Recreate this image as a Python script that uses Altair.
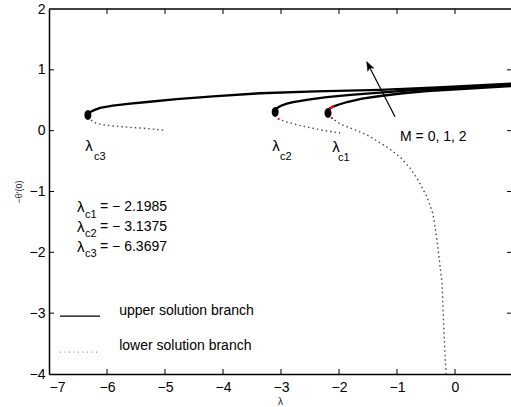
import altair as alt
import pandas as pd

# ---------------- data ----------------
x_ticks = [-7, -6, -5, -4, -3, -2, -1, 0]
y_ticks = [-4, -3, -2, -1, 0, 1, 2]

# upper solution branches (solid)
up3_lam = [-6.33, -6.28, -6.2, -6.12, -5.9, -5.6, -5.31, -4.8, -4.17, -3.36, -2.4, -1.29, -0.3, 0.97]
up3_f = [0.26, 0.31, 0.345, 0.373, 0.41, 0.445, 0.471, 0.52, 0.565, 0.615, 0.645, 0.672, 0.71, 0.775]
up2_lam = [-3.10, -3.07, -3.0, -2.9, -2.79, -2.5, -2.21, -1.8, -1.29, -0.48, 0.97]
up2_f = [0.307, 0.373, 0.41, 0.445, 0.471, 0.515, 0.553, 0.59, 0.625, 0.685, 0.75]
up1_lam = [-2.19, -2.17, -2.13, -2.09, -2.0, -1.86, -1.6, -1.29, -0.9, -0.48, 0.97]
up1_f = [0.29, 0.355, 0.38, 0.40, 0.43, 0.471, 0.525, 0.57, 0.615, 0.652, 0.734]

# lower solution branches (dotted)
lo3_lam = [-6.33, -6.24, -6.1, -5.9, -5.65, -5.43, -5.2, -5.03]
lo3_f = [0.225, 0.142, 0.10, 0.077, 0.058, 0.044, 0.025, 0.011]
lo2_lam = [-3.10, -3.04, -2.9, -2.7, -2.5, -2.25, -1.98]
lo2_f = [0.26, 0.19, 0.142, 0.09, 0.05, 0.0, -0.038]
lo1_lam = [-2.19, -2.155, -1.983, -1.759, -1.517, -1.172, -0.948, -0.776, -0.638, -0.483,
           -0.379, -0.31, -0.224, -0.19, -0.155]
lo1_f = [0.27, 0.225, 0.11, 0.027, -0.071, -0.269, -0.433, -0.614, -0.811, -1.09,
         -1.37, -1.797, -2.504, -3.326, -4.0]

# red highlight pieces
red_lam = [-2.17, -2.13, -2.09]
red_f = [0.355, 0.38, 0.40]
reddot_lam = [-3.04, -2.12]
reddot_f = [0.19, 0.21]

# turning points (markers)
turn_lam = [-6.33, -3.10, -2.19]
turn_f = [0.257, 0.307, 0.29]

# annotation texts
lam_sym_lam = [-6.31, -3.086, -2.052]
lam_sym_f = [-0.252, -0.25, -0.27]
sub_lab = ["c3", "c2", "c1"]
sub_lam = [-6.224, -3.017, -2.017]
sub_f = [-0.433, -0.433, -0.45]

block_vals = ["= − 2.1985", "= − 3.1375", "= − 6.3697"]
block_subs = ["c1", "c2", "c3"]
block_f = [-1.255, -1.58, -1.91]
block_sub_f = [-1.39, -1.70, -2.03]

legend_labels = ["upper solution branch", "lower solution branch"]
legend_f = [-3.05, -3.64]
legend_text_f = [-2.96, -3.54]

# ---------------- layout ----------------
W, H = 462, 365
XMIN, XMAX = -7, 0.9655
YMIN, YMAX = -4, 2
FONT = "Liberation Sans"

xs = alt.Scale(domain=[XMIN, XMAX], nice=False, zero=False)
ys = alt.Scale(domain=[YMIN, YMAX], nice=False, zero=False)

xaxis = alt.Axis(values=x_ticks, format="d", labelFont=FONT, labelFontSize=14, labelColor="black",
                 labelPadding=6, ticks=False, tickSize=0, grid=False, domainColor="black",
                 domainWidth=1.5, titleFont=FONT, titleFontSize=10, titleFontWeight="normal",
                 titleColor="#222222", titleY=27, titleBaseline="middle")
yaxis = alt.Axis(values=y_ticks, format="d", labelFont=FONT, labelFontSize=14, labelColor="black",
                 labelPadding=4, ticks=False, tickSize=0, grid=False, domainColor="black",
                 domainWidth=1.5, titleFont=FONT, titleFontSize=9, titleFontWeight="normal",
                 titleColor="#222222", titleX=-31, titleY=H / 2, titleAngle=270,
                 titleAlign="center", titleBaseline="middle")


def X(field="lam"):
    return alt.X(f"{field}:Q", scale=xs, axis=xaxis, title="λ")


def Y(field="f"):
    return alt.Y(f"{field}:Q", scale=ys, axis=yaxis, title="−θ′(0)")


def branch_df(pairs):
    rows = []
    for name, lam, f in pairs:
        for i, (a, b) in enumerate(zip(lam, f)):
            rows.append({"curve": name, "idx": i, "lam": a, "f": b})
    return pd.DataFrame(rows)


upper_df = branch_df([("u3", up3_lam, up3_f), ("u2", up2_lam, up2_f), ("u1", up1_lam, up1_f)])
lower_df = branch_df([("l3", lo3_lam, lo3_f), ("l2", lo2_lam, lo2_f), ("l1", lo1_lam, lo1_f)])
red_df = pd.DataFrame({"lam": red_lam, "f": red_f, "idx": range(len(red_lam))})
reddot_df = pd.DataFrame({"lam": reddot_lam, "f": reddot_f})
turn_df = pd.DataFrame({"lam": turn_lam, "f": turn_f})

lower = alt.Chart(lower_df).mark_line(color="#4a4a4a", strokeWidth=1.4, strokeDash=[1.5, 3]).encode(
    x=X(), y=Y(), detail="curve:N", order="idx:Q")
upper = alt.Chart(upper_df).mark_line(color="black", strokeWidth=2.3).encode(
    x=X(), y=Y(), detail="curve:N", order="idx:Q")
red = alt.Chart(red_df).mark_line(color="red", strokeWidth=2.3).encode(x=X(), y=Y(), order="idx:Q")
reddots = alt.Chart(reddot_df).mark_circle(color="red", size=4, opacity=1).encode(x=X(), y=Y())

ellipse = ("M0,-1 C0.4,-1 0.7,-0.55 0.7,0 C0.7,0.55 0.4,1 0,1 "
           "C-0.4,1 -0.7,0.55 -0.7,0 C-0.7,-0.55 -0.4,-1 0,-1 Z")
markers = alt.Chart(turn_df).mark_point(shape=ellipse, filled=True, color="black", size=100,
                                        opacity=1, strokeWidth=0).encode(x=X(), y=Y())

# arrow
arrow_df = pd.DataFrame({"lam": [-1.034], "f": [0.229], "lam2": [-1.515], "f2": [1.12]})
arrow_line = alt.Chart(arrow_df).mark_rule(color="black", strokeWidth=1.2).encode(
    x=X(), y=Y(), x2="lam2:Q", y2="f2:Q")
head_df = pd.DataFrame({"lam": [-1.522], "f": [1.134]})
arrow_head = alt.Chart(head_df).mark_point(
    shape="M0,0 L-0.38,1 L0,0.75 L0.38,1 Z", filled=True, color="black", size=324,
    angle=333, opacity=1, strokeWidth=0.5, stroke="black").encode(x=X(), y=Y())

# labels near turning points
lam_sym_df = pd.DataFrame({"lam": lam_sym_lam, "f": lam_sym_f, "t": ["λ"] * 3})
lam_sym = alt.Chart(lam_sym_df).mark_text(font=FONT, fontSize=15, color="black", align="center",
                                          baseline="middle").encode(x=X(), y=Y(), text="t:N")
sub_df = pd.DataFrame({"lam": sub_lam, "f": sub_f, "t": sub_lab})
subs = alt.Chart(sub_df).mark_text(font=FONT, fontSize=11, color="black", align="left",
                                   baseline="middle").encode(x=X(), y=Y(), text="t:N")

m_df = pd.DataFrame({"lam": [-0.948], "f": [-0.11], "t": ["M = 0, 1, 2"]})
m_text = alt.Chart(m_df).mark_text(font=FONT, fontSize=14, color="black", align="left",
                                   baseline="middle").encode(x=X(), y=Y(), text="t:N")

# critical-value block
blk_l_df = pd.DataFrame({"lam": [-6.517] * 3, "f": block_f, "t": ["λ"] * 3})
blk_l = alt.Chart(blk_l_df).mark_text(font=FONT, fontSize=15, color="black", align="left",
                                      baseline="middle").encode(x=X(), y=Y(), text="t:N")
blk_s_df = pd.DataFrame({"lam": [-6.38] * 3, "f": block_sub_f, "t": block_subs})
blk_s = alt.Chart(blk_s_df).mark_text(font=FONT, fontSize=11, color="black", align="left",
                                      baseline="middle").encode(x=X(), y=Y(), text="t:N")
blk_v_df = pd.DataFrame({"lam": [-6.12] * 3, "f": block_f, "t": block_vals})
blk_v = alt.Chart(blk_v_df).mark_text(font=FONT, fontSize=14, color="black", align="left",
                                      baseline="middle").encode(x=X(), y=Y(), text="t:N")

# legend
leg_solid_df = pd.DataFrame({"lam": [-6.81], "lam2": [-6.12], "f": [legend_f[0]]})
leg_solid = alt.Chart(leg_solid_df).mark_rule(color="black", strokeWidth=1.2).encode(
    x=X(), x2="lam2:Q", y=Y())
leg_dot_df = pd.DataFrame({"lam": [-6.81], "lam2": [-6.12], "f": [legend_f[1]]})
leg_dot = alt.Chart(leg_dot_df).mark_rule(color="#777777", strokeWidth=1, strokeDash=[1, 3.5]).encode(
    x=X(), x2="lam2:Q", y=Y())
leg_txt_df = pd.DataFrame({"lam": [-5.79, -5.79], "f": legend_text_f, "t": legend_labels})
leg_txt = alt.Chart(leg_txt_df).mark_text(font=FONT, fontSize=14, color="black", align="left",
                                          baseline="middle").encode(x=X(), y=Y(), text="t:N")

# frame: top border and inward ticks
top_df = pd.DataFrame({"lam": [XMIN], "lam2": [XMAX], "f": [YMAX]})
top_line = alt.Chart(top_df).mark_rule(color="black", strokeWidth=1.5).encode(
    x=X(), x2="lam2:Q", y=Y())
xt_df = pd.DataFrame({"lam": x_ticks[1:]})
yt_df = pd.DataFrame({"f": y_ticks[1:-1]})
bot_ticks = alt.Chart(xt_df).mark_rule(color="black", strokeWidth=1).encode(
    x=X(), y=alt.value(H), y2=alt.value(H - 5))
top_ticks = alt.Chart(xt_df).mark_rule(color="black", strokeWidth=1).encode(
    x=X(), y=alt.value(0), y2=alt.value(5))
left_ticks = alt.Chart(yt_df).mark_rule(color="black", strokeWidth=1).encode(
    y=Y(), x=alt.value(0), x2=alt.value(5))
right_ticks = alt.Chart(yt_df).mark_rule(color="black", strokeWidth=1).encode(
    y=Y(), x=alt.value(W - 4), x2=alt.value(W))

chart = alt.layer(
    lower, upper, red, reddots, markers, arrow_line, arrow_head,
    lam_sym, subs, m_text, blk_l, blk_s, blk_v,
    leg_solid, leg_dot, leg_txt,
    top_line, bot_ticks, top_ticks, left_ticks, right_ticks,
).properties(
    width=W, height=H,
    autosize=alt.AutoSizeParams(type="none"),
    padding={"left": 49, "top": 9, "right": 0, "bottom": 33},
    background="white",
).configure_view(stroke=None)

chart.save("out.html", embed_options={"renderer": "svg", "actions": False})
